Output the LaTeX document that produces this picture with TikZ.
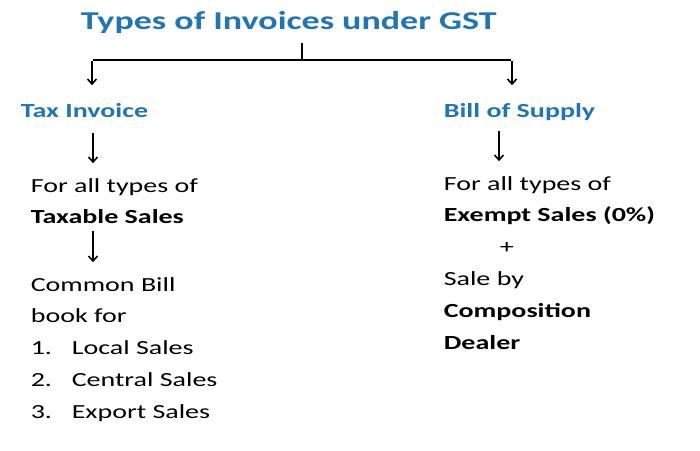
\documentclass[tikz,border=0pt]{standalone}
\usepackage{fontspec}
\setmainfont{Carlito}[FakeStretch=1.4]
\usepackage{tikz}
\usetikzlibrary{arrows.meta}
\definecolor{gstblue}{RGB}{31,117,181}
\newcommand{\drawtitle}{\node[anchor=base west,inner sep=0,gstblue,font=\bfseries\fontsize{25.7}{30}\selectfont]}
\newcommand{\drawhead}{\node[anchor=base west,inner sep=0,gstblue,font=\bfseries\fontsize{20}{24}\selectfont]}
\newcommand{\drawtext}{\node[anchor=base west,inner sep=0,font=\fontsize{20}{24}\selectfont]}
\newcommand{\drawbold}{\node[anchor=base west,inner sep=0,font=\bfseries\fontsize{20}{24}\selectfont]}
\newcommand{\drawdummy}{\node[minimum size=0,inner sep=0]}

\begin{document}
\begin{tikzpicture}[x=1pt, y=-1pt, line width=1.6pt, >={Straight Barb[length=5pt,width=9pt]}]
%types of invoices under GST
\useasboundingbox (0,0) rectangle (700,450);

\drawtitle (title) at (80,29.3) {Types of Invoices under GST};
\drawdummy (titleFoot) at (302,42) {};
\drawdummy (fork) at (302,60) {};
\drawdummy (forkL) at (92,60) {};
\drawdummy (forkR) at (512,60) {};
\drawdummy (taxIn) at (92,86) {};
\drawdummy (billIn) at (512,86) {};

%left branch
\drawhead (tax) at (20,117) {Tax Invoice};
\drawdummy (taxOut) at (93,132) {};
\drawdummy (taxDown) at (93,164) {};
\drawtext (forAllL) at (30,192) {For all types of};
\drawbold (taxable) at (30,223.3) {Taxable Sales};
\drawdummy (taxableOut) at (93,230) {};
\drawdummy (taxableDown) at (93,263) {};
\drawtext (common) at (30,291) {Common Bill};
\drawtext (book) at (30,322.5) {book for};
\drawtext (n1) at (30,354.3) {1.};
\drawtext (local) at (71,354.3) {Local Sales};
\drawtext (n2) at (30,386.3) {2.};
\drawtext (central) at (71,386.3) {Central Sales};
\drawtext (n3) at (30,418.3) {3.};
\drawtext (export) at (71,418.3) {Export Sales};

%right branch
\drawhead (bill) at (443,117) {Bill of Supply};
\drawdummy (billOut) at (499,130) {};
\drawdummy (billDown) at (499,162) {};
\drawtext (forAllR) at (443,190) {For all types of};
\drawbold (exempt) at (443,221.7) {Exempt Sales (0\%)};
\drawtext (plus) at (499,253.5) {+};
\drawtext (saleBy) at (443,285.5) {Sale by};
\drawbold (compo) at (443,317) {Composition};
\drawbold (dealer) at (443,349) {Dealer};

\draw[-] (titleFoot) to (fork);
\draw[-] (forkL) to (forkR);
\draw[->] (forkL) to (taxIn);
\draw[->] (forkR) to (billIn);
\draw[->] (taxOut) to (taxDown);
\draw[->] (taxableOut) to (taxableDown);
\draw[->] (billOut) to (billDown);
\end{tikzpicture}
\end{document}
